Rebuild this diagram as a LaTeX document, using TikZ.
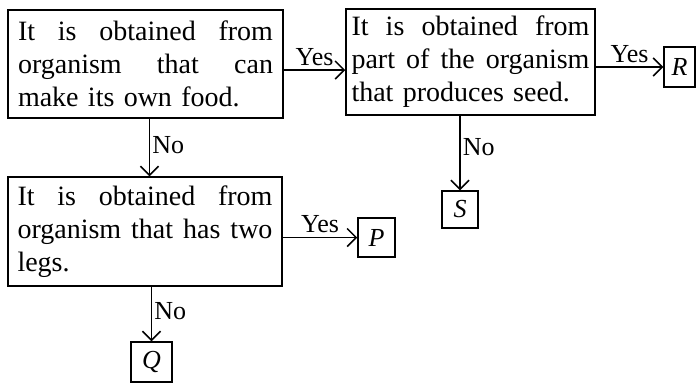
\documentclass[tikz,border=0pt]{standalone}
\usepackage{fontspec}
\setmainfont{Liberation Serif}
\usetikzlibrary{arrows.meta}
\newcommand{\jline}[2]{\makebox[#1][s]{\spaceskip=0.25em plus 1fil\relax #2}}
\tikzset{
  qbox/.style={draw, line width=1.5pt, inner sep=0pt, align=left,
    font=\fontsize{28}{33}\selectfont},
  lbox/.style={draw, line width=1.5pt, inner sep=0pt,
    font=\fontsize{26}{30}\selectfont\itshape},
  arr/.style={line width=1.5pt, -{Straight Barb[length=9pt,width=18pt,line width=1.5pt]}},
  lab/.style={font=\fontsize{26}{28}\selectfont, inner sep=2pt}
}
\begin{document}
\begin{tikzpicture}[x=1pt,y=-1pt]
\useasboundingbox (0,0) rectangle (696,384);
\node[qbox, minimum width=275pt, minimum height=108pt, text width=255pt] (b1) at (145.5,64)
  {\jline{255pt}{It is obtained from}\\\jline{255pt}{organism that can}\\make its own food.};
\node[qbox, minimum width=249pt, minimum height=106pt, text width=238pt] (b2) at (470.5,62)
  {\jline{238pt}{It is obtained from}\\\jline{238pt}{part of the organism}\\that produces seed.};
\node[qbox, minimum width=274pt, minimum height=109pt, text width=255pt] (b3) at (145,231.5)
  {\jline{255pt}{It is obtained from}\\\jline{255pt}{organism that has two}\\legs.};
\node[lbox, minimum width=31pt, minimum height=40pt] (R) at (679.5,67) {R};
\node[lbox, minimum width=36pt, minimum height=37pt] (S) at (460,209.5) {S};
\node[lbox, minimum width=37pt, minimum height=39pt] (P) at (376.5,237.5) {P};
\node[lbox, minimum width=41pt, minimum height=40pt] (Q) at (151.5,362) {Q};
\draw[arr] ([yshift=-6pt]b1.east) -- ([yshift=-6pt]b1.east -| b2.west)
  node[lab, midway, above, yshift=2pt] {Yes};
\draw[arr] (b2.east |- R.west) -- (R.west)
  node[lab, midway, above, yshift=2pt] {Yes};
\draw[arr] (b3.east |- P.west) -- (P.west)
  node[lab, midway, above, yshift=2pt] {Yes};
\draw[arr] ([xshift=4pt]b1.south) -- ([xshift=4pt]b1.south |- b3.north)
  node[lab, pos=0.45, right] {No};
\draw[arr] (S.north |- b2.south) -- (S.north)
  node[lab, pos=0.42, right] {No};
\draw[arr] (Q.north |- b3.south) -- (Q.north)
  node[lab, pos=0.45, right] {No};
\end{tikzpicture}
\end{document}
